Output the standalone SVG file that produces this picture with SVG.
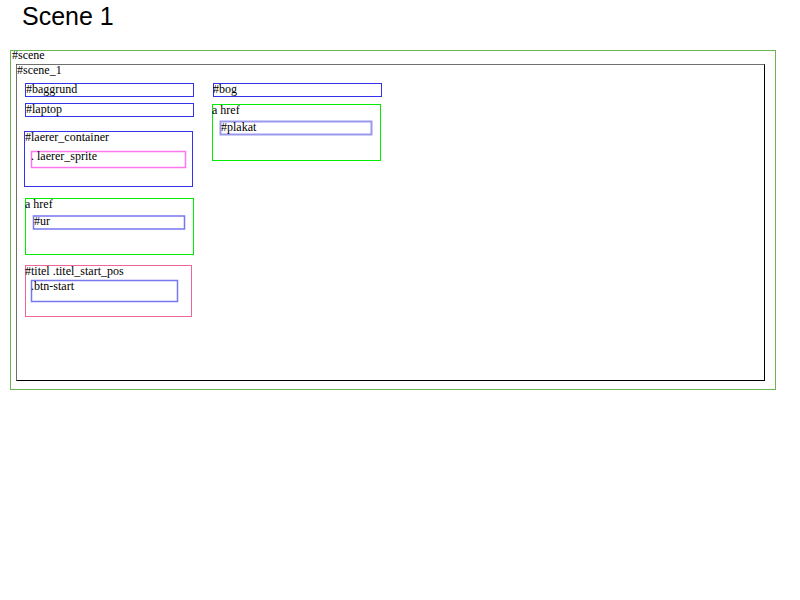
<svg xmlns="http://www.w3.org/2000/svg" width="800" height="600" viewBox="0 0 800 600">
<style>
  text.lbl { font-family: "Liberation Serif", "Times New Roman", serif; font-size: 12px; fill: #000; }
  .box { fill: none; }
  .blue { stroke: #3333ee; stroke-width: 1; }
  .lblue { stroke: #7777ee; stroke-width: 1.5; }
  .llblue { stroke: #9999ee; stroke-width: 2; }
  .green { stroke: #00ee00; stroke-width: 1; }
  .pink { stroke: #ee6699; stroke-width: 1; }
  .magenta { stroke: #ff77ee; stroke-width: 1.5; }
</style>
<rect x="0" y="0" width="800" height="600" fill="#fff"/>
<text x="22" y="25" font-family="Liberation Sans, Arial, sans-serif" font-size="25" fill="#000">Scene 1</text>

<g id="scene">
  <rect class="box" x="10.5" y="50.5" width="765" height="339" stroke="#6cb652" stroke-width="1"/>
  <text class="lbl" x="12" y="59">#scene</text>
</g>

<g id="scene_1">
  <rect x="16.5" y="64.5" width="748" height="316" fill="none" stroke="#000" stroke-width="1"/>
  <path d="M16.5 380.5 V64.5 H764.5" fill="none" stroke="#707070" stroke-width="1"/>
  <text class="lbl" x="17" y="74">#scene_1</text>
</g>

<g id="baggrund">
  <rect class="box blue" x="25.5" y="83.5" width="168" height="13"/>
  <text class="lbl" x="26" y="93">#baggrund</text>
</g>

<g id="laptop">
  <rect class="box blue" x="25.5" y="103.5" width="168" height="13"/>
  <text class="lbl" x="26" y="113">#laptop</text>
</g>

<g id="laerer_container">
  <rect class="box blue" x="24.5" y="131.5" width="168" height="55"/>
  <text class="lbl" x="25" y="141">#laerer_container</text>
</g>

<g id="laerer_sprite">
  <rect class="box magenta" x="31.5" y="151.5" width="154" height="16"/>
  <text class="lbl" x="31" y="160">. laerer_sprite</text>
</g>

<g id="a_href_ur">
  <rect class="box green" x="25.5" y="198.5" width="168" height="56"/>
  <text class="lbl" x="25" y="208">a href</text>
</g>

<g id="ur">
  <rect class="box lblue" x="33.5" y="216" width="151" height="13"/>
  <text class="lbl" x="34" y="225">#ur</text>
</g>

<g id="titel">
  <rect class="box pink" x="25.5" y="265.5" width="166" height="51"/>
  <text class="lbl" x="25" y="275">#titel .titel_start_pos</text>
</g>

<g id="btn-start">
  <rect class="box lblue" x="31.5" y="280.5" width="146" height="21"/>
  <text class="lbl" x="31" y="290">.btn-start</text>
</g>

<g id="bog">
  <rect class="box blue" x="213.5" y="83.5" width="168" height="13"/>
  <text class="lbl" x="213" y="93">#bog</text>
</g>

<g id="a_href_plakat">
  <rect class="box green" x="212.5" y="104.5" width="168" height="56"/>
  <text class="lbl" x="212" y="114">a href</text>
</g>

<g id="plakat">
  <rect class="box llblue" x="220.5" y="121.5" width="151" height="13"/>
  <text class="lbl" x="221" y="131">#plakat</text>
</g>

<g id="connectors"></g>
</svg>
